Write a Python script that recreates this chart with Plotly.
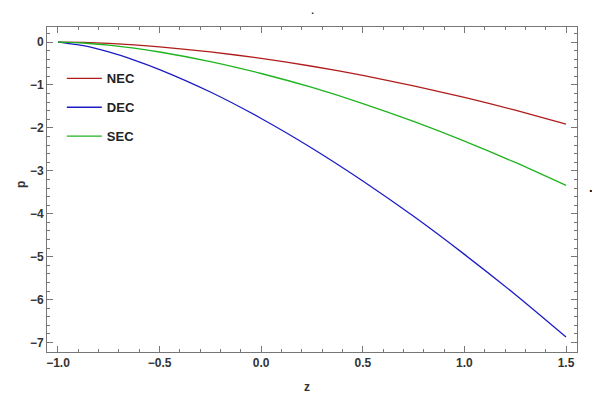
import plotly.graph_objects as go

# redshift values
z = [-1.0, -0.875, -0.75, -0.625, -0.5, -0.25, 0.0, 0.25, 0.5, 0.75, 1.0, 1.25, 1.5]

# energy condition curves
nec = [0.0, -0.010, -0.033, -0.068, -0.112, -0.229, -0.381, -0.564, -0.777, -1.02, -1.289, -1.587, -1.91]
dec = [0.0, -0.083, -0.231, -0.42, -0.641, -1.164, -1.78, -2.473, -3.236, -4.06, -4.946, -5.88, -6.87]
sec = [0.0, -0.023, -0.074, -0.144, -0.232, -0.455, -0.733, -1.059, -1.433, -1.85, -2.308, -2.805, -3.34]

series = [("NEC", nec, "#b01c1c"), ("DEC", dec, "#1c1cc4"), ("SEC", sec, "#1fb41f")]

fig = go.Figure()
for i, (name, vals, color) in enumerate(series):
    fig.add_trace(go.Scatter(
        x=z, y=vals, mode="lines", name=name, legendgroup=f"g{i}",
        line=dict(color=color, width=1.3, shape="spline", smoothing=0.6),
    ))

axis_font = dict(family="Liberation Sans", size=12, color="#333333", weight="bold")
frame = dict(
    showline=True, linecolor="#777777", linewidth=1, mirror="allticks",
    ticks="inside", ticklen=6, tickcolor="#777777", showgrid=False, zeroline=False,
    tickfont=axis_font, automargin=False,
)

fig.update_xaxes(
    range=[-1.054, 1.554], dtick=0.5, tick0=0, tickformat=".1f",
    minor=dict(dtick=0.1, ticks="inside", ticklen=3, tickcolor="#777777"),
    **frame,
)
fig.update_yaxes(
    range=[-7.22, 0.35], dtick=1, tick0=0,
    minor=dict(dtick=0.2, ticks="inside", ticklen=3, tickcolor="#777777"),
    **frame,
)

# the page adds an 8px body margin, so the figure is sized to fit inside it
fig.update_layout(
    width=592, height=389,
    margin=dict(l=39, r=23, t=19, b=45),
    paper_bgcolor="white", plot_bgcolor="white",
    legend=dict(x=0.028, y=0.888, xanchor="left", yanchor="top", itemwidth=35,
                font=dict(family="Liberation Sans", size=13, color="#222222", weight="bold"),
                tracegroupgap=9, bgcolor="rgba(0,0,0,0)"),
    annotations=[
        dict(text="z", xref="paper", yref="paper", x=0.49, y=-0.108, showarrow=False,
             yanchor="middle", font=axis_font),
        dict(text="p", xref="paper", yref="paper", x=-0.066, y=0.514, showarrow=False,
             textangle=-90, font=axis_font),
        dict(text=".", xref="paper", yref="paper", x=0.5, y=1.0, yshift=7, showarrow=False,
             yanchor="bottom", font=dict(size=12, color="black")),
        dict(text="<b>.</b>", xref="paper", yref="paper", x=1.0, xshift=14, y=0.5, yshift=3,
             showarrow=False, xanchor="center", borderpad=0,
             font=dict(size=13, color="black")),
    ],
)

fig.write_html("out.html")
